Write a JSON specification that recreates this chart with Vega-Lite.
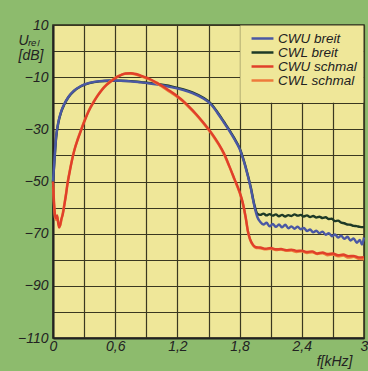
{
"$schema":"https://vega.github.io/schema/vega-lite/v6.json",
"width":311,"height":313,"autosize":"none",
"padding":{"left":53,"top":25,"right":4,"bottom":33},
"background":"#8dbb6d",
"config":{"view":{"fill":"#efe799","stroke":"#2b2a1c","strokeWidth":1.5},"font":"Liberation Sans",
 "axis":{"grid":true,"gridColor":"#3a3820","gridWidth":1.2,"gridOpacity":1,"ticks":false,"domainColor":"#222","domainWidth":2,"labelFont":"Liberation Sans","labelFontStyle":"italic","labelFontSize":14,"labelColor":"#222","labelFlush":false,"labelOverlap":false,"titleFont":"Liberation Sans","titleFontStyle":"italic","titleFontWeight":"normal","titleFontSize":14,"titleColor":"#222"},
 "axisX":{"labelExpr":"round(datum.value*10) % 6 == 0 ? replace(format(datum.value,'.1~f'),'.',',') : ''","labelPadding":1,"titleX":299,"titleY":27,"titleAlign":"right","titleBaseline":"alphabetic"},
 "axisY":{"labelExpr":"datum.value % 20 == 0 ? '' : datum.label","labelPadding":5,"titleAngle":0,"titleX":-35,"titleY":19,"titleAlign":"left","titleBaseline":"alphabetic","titleLineHeight":15}
},
"datasets":{
"curves":[
{"s":"CWL breit","f":0,"v":-50.5},{"s":"CWL breit","f":0.01,"v":-44.5},{"s":"CWL breit","f":0.02,"v":-38.5},{"s":"CWL breit","f":0.03,"v":-33.3},{"s":"CWL breit","f":0.05,"v":-27.8},{"s":"CWL breit","f":0.08,"v":-23.2},{"s":"CWL breit","f":0.11,"v":-20.4},{"s":"CWL breit","f":0.15,"v":-17.6},{"s":"CWL breit","f":0.2,"v":-15.4},{"s":"CWL breit","f":0.27,"v":-13.5},{"s":"CWL breit","f":0.35,"v":-12.3},{"s":"CWL breit","f":0.45,"v":-11.6},{"s":"CWL breit","f":0.55,"v":-11.4},{"s":"CWL breit","f":0.65,"v":-11.4},{"s":"CWL breit","f":0.75,"v":-11.5},{"s":"CWL breit","f":0.85,"v":-11.9},{"s":"CWL breit","f":0.95,"v":-12.3},{"s":"CWL breit","f":1.05,"v":-12.9},{"s":"CWL breit","f":1.15,"v":-13.6},{"s":"CWL breit","f":1.25,"v":-14.6},{"s":"CWL breit","f":1.35,"v":-15.9},{"s":"CWL breit","f":1.45,"v":-17.9},{"s":"CWL breit","f":1.52,"v":-20},{"s":"CWL breit","f":1.6,"v":-24.2},{"s":"CWL breit","f":1.65,"v":-27.2},{"s":"CWL breit","f":1.7,"v":-30.2},{"s":"CWL breit","f":1.75,"v":-33.5},{"s":"CWL breit","f":1.8,"v":-37.2},{"s":"CWL breit","f":1.85,"v":-43.2},{"s":"CWL breit","f":1.88,"v":-47.7},{"s":"CWL breit","f":1.91,"v":-52.6},{"s":"CWL breit","f":1.94,"v":-58.5},{"s":"CWL breit","f":1.97,"v":-62.3},{"s":"CWL breit","f":2.0,"v":-62.8},{"s":"CWL breit","f":2.03,"v":-62.3},{"s":"CWL breit","f":2.06,"v":-63.0},{"s":"CWL breit","f":2.09,"v":-62.5},{"s":"CWL breit","f":2.12,"v":-63.1},{"s":"CWL breit","f":2.15,"v":-62.6},{"s":"CWL breit","f":2.18,"v":-63.3},{"s":"CWL breit","f":2.21,"v":-62.8},{"s":"CWL breit","f":2.24,"v":-63.4},{"s":"CWL breit","f":2.27,"v":-62.9},{"s":"CWL breit","f":2.3,"v":-63.2},{"s":"CWL breit","f":2.33,"v":-62.6},{"s":"CWL breit","f":2.36,"v":-63.1},{"s":"CWL breit","f":2.39,"v":-62.8},{"s":"CWL breit","f":2.42,"v":-63.4},{"s":"CWL breit","f":2.45,"v":-63.0},{"s":"CWL breit","f":2.48,"v":-63.6},{"s":"CWL breit","f":2.51,"v":-63.2},{"s":"CWL breit","f":2.54,"v":-63.8},{"s":"CWL breit","f":2.57,"v":-63.5},{"s":"CWL breit","f":2.6,"v":-64.0},{"s":"CWL breit","f":2.63,"v":-63.7},{"s":"CWL breit","f":2.66,"v":-64.4},{"s":"CWL breit","f":2.69,"v":-64.3},{"s":"CWL breit","f":2.72,"v":-65.2},{"s":"CWL breit","f":2.75,"v":-65.0},{"s":"CWL breit","f":2.78,"v":-65.8},{"s":"CWL breit","f":2.81,"v":-66.0},{"s":"CWL breit","f":2.84,"v":-66.5},{"s":"CWL breit","f":2.87,"v":-66.6},{"s":"CWL breit","f":2.9,"v":-67.0},{"s":"CWL breit","f":2.93,"v":-67.1},{"s":"CWL breit","f":2.96,"v":-67.4},{"s":"CWL breit","f":3.0,"v":-67.5},
{"s":"CWU breit","f":0,"v":-50},{"s":"CWU breit","f":0.01,"v":-44},{"s":"CWU breit","f":0.02,"v":-38},{"s":"CWU breit","f":0.03,"v":-33},{"s":"CWU breit","f":0.05,"v":-27.5},{"s":"CWU breit","f":0.08,"v":-23},{"s":"CWU breit","f":0.11,"v":-20.2},{"s":"CWU breit","f":0.15,"v":-17.5},{"s":"CWU breit","f":0.2,"v":-15.3},{"s":"CWU breit","f":0.27,"v":-13.4},{"s":"CWU breit","f":0.35,"v":-12.2},{"s":"CWU breit","f":0.45,"v":-11.5},{"s":"CWU breit","f":0.55,"v":-11.3},{"s":"CWU breit","f":0.65,"v":-11.4},{"s":"CWU breit","f":0.75,"v":-11.6},{"s":"CWU breit","f":0.85,"v":-12.0},{"s":"CWU breit","f":0.95,"v":-12.5},{"s":"CWU breit","f":1.05,"v":-13.1},{"s":"CWU breit","f":1.15,"v":-13.9},{"s":"CWU breit","f":1.25,"v":-14.9},{"s":"CWU breit","f":1.35,"v":-16.2},{"s":"CWU breit","f":1.45,"v":-18.2},{"s":"CWU breit","f":1.52,"v":-20.3},{"s":"CWU breit","f":1.6,"v":-24.5},{"s":"CWU breit","f":1.65,"v":-27.5},{"s":"CWU breit","f":1.7,"v":-30.5},{"s":"CWU breit","f":1.75,"v":-33.8},{"s":"CWU breit","f":1.8,"v":-37.5},{"s":"CWU breit","f":1.85,"v":-43.5},{"s":"CWU breit","f":1.88,"v":-48},{"s":"CWU breit","f":1.91,"v":-53},{"s":"CWU breit","f":1.94,"v":-59},{"s":"CWU breit","f":1.97,"v":-63.5},{"s":"CWU breit","f":2.0,"v":-65.5},{"s":"CWU breit","f":2.03,"v":-66.5},{"s":"CWU breit","f":2.06,"v":-65.8},{"s":"CWU breit","f":2.09,"v":-67.2},{"s":"CWU breit","f":2.12,"v":-66.3},{"s":"CWU breit","f":2.15,"v":-67.4},{"s":"CWU breit","f":2.18,"v":-66.5},{"s":"CWU breit","f":2.21,"v":-67.6},{"s":"CWU breit","f":2.24,"v":-66.6},{"s":"CWU breit","f":2.27,"v":-67.9},{"s":"CWU breit","f":2.3,"v":-67.2},{"s":"CWU breit","f":2.33,"v":-68.1},{"s":"CWU breit","f":2.36,"v":-67.3},{"s":"CWU breit","f":2.39,"v":-68.3},{"s":"CWU breit","f":2.42,"v":-67.8},{"s":"CWU breit","f":2.45,"v":-69.0},{"s":"CWU breit","f":2.48,"v":-68.4},{"s":"CWU breit","f":2.51,"v":-69.5},{"s":"CWU breit","f":2.54,"v":-68.9},{"s":"CWU breit","f":2.57,"v":-69.8},{"s":"CWU breit","f":2.6,"v":-69.2},{"s":"CWU breit","f":2.63,"v":-70.4},{"s":"CWU breit","f":2.66,"v":-69.8},{"s":"CWU breit","f":2.69,"v":-71.0},{"s":"CWU breit","f":2.72,"v":-70.3},{"s":"CWU breit","f":2.75,"v":-71.5},{"s":"CWU breit","f":2.78,"v":-70.8},{"s":"CWU breit","f":2.81,"v":-72.0},{"s":"CWU breit","f":2.84,"v":-71.2},{"s":"CWU breit","f":2.87,"v":-72.6},{"s":"CWU breit","f":2.9,"v":-71.8},{"s":"CWU breit","f":2.93,"v":-73.5},{"s":"CWU breit","f":2.96,"v":-72.4},{"s":"CWU breit","f":2.98,"v":-74.2},{"s":"CWU breit","f":3.0,"v":-71.5},
{"s":"CWL schmal","f":0,"v":-52},{"s":"CWL schmal","f":0.01,"v":-59},{"s":"CWL schmal","f":0.02,"v":-64},{"s":"CWL schmal","f":0.03,"v":-64.8},{"s":"CWL schmal","f":0.04,"v":-63.5},{"s":"CWL schmal","f":0.05,"v":-65.5},{"s":"CWL schmal","f":0.06,"v":-67},{"s":"CWL schmal","f":0.07,"v":-66.8},{"s":"CWL schmal","f":0.08,"v":-65},{"s":"CWL schmal","f":0.095,"v":-62},{"s":"CWL schmal","f":0.11,"v":-58.5},{"s":"CWL schmal","f":0.126,"v":-54.5},{"s":"CWL schmal","f":0.14,"v":-50.5},{"s":"CWL schmal","f":0.158,"v":-46.5},{"s":"CWL schmal","f":0.18,"v":-42.2},{"s":"CWL schmal","f":0.205,"v":-38},{"s":"CWL schmal","f":0.24,"v":-33.5},{"s":"CWL schmal","f":0.27,"v":-30.2},{"s":"CWL schmal","f":0.3,"v":-27},{"s":"CWL schmal","f":0.33,"v":-24.1},{"s":"CWL schmal","f":0.36,"v":-21.6},{"s":"CWL schmal","f":0.395,"v":-19.2},{"s":"CWL schmal","f":0.43,"v":-17},{"s":"CWL schmal","f":0.47,"v":-14.8},{"s":"CWL schmal","f":0.52,"v":-12.7},{"s":"CWL schmal","f":0.57,"v":-11.1},{"s":"CWL schmal","f":0.62,"v":-9.8},{"s":"CWL schmal","f":0.66,"v":-9.1},{"s":"CWL schmal","f":0.7,"v":-8.7},{"s":"CWL schmal","f":0.75,"v":-8.6},{"s":"CWL schmal","f":0.8,"v":-9},{"s":"CWL schmal","f":0.86,"v":-9.8},{"s":"CWL schmal","f":0.93,"v":-10.9},{"s":"CWL schmal","f":1.0,"v":-12.4},{"s":"CWL schmal","f":1.05,"v":-13.6},{"s":"CWL schmal","f":1.12,"v":-15.5},{"s":"CWL schmal","f":1.2,"v":-17.6},{"s":"CWL schmal","f":1.25,"v":-19.2},{"s":"CWL schmal","f":1.31,"v":-21.5},{"s":"CWL schmal","f":1.38,"v":-24.4},{"s":"CWL schmal","f":1.44,"v":-27.2},{"s":"CWL schmal","f":1.5,"v":-30.2},{"s":"CWL schmal","f":1.56,"v":-33.5},{"s":"CWL schmal","f":1.6,"v":-36},{"s":"CWL schmal","f":1.65,"v":-39.6},{"s":"CWL schmal","f":1.7,"v":-44.2},{"s":"CWL schmal","f":1.75,"v":-49.2},{"s":"CWL schmal","f":1.8,"v":-54.3},{"s":"CWL schmal","f":1.83,"v":-58.3},{"s":"CWL schmal","f":1.86,"v":-64.3},{"s":"CWL schmal","f":1.88,"v":-69.2},{"s":"CWL schmal","f":1.9,"v":-72.2},{"s":"CWL schmal","f":1.93,"v":-74.6},{"s":"CWL schmal","f":1.96,"v":-75.5},{"s":"CWL schmal","f":2.0,"v":-75.6},{"s":"CWL schmal","f":2.05,"v":-76.0},{"s":"CWL schmal","f":2.1,"v":-75.8},{"s":"CWL schmal","f":2.15,"v":-76.3},{"s":"CWL schmal","f":2.2,"v":-76.1},{"s":"CWL schmal","f":2.25,"v":-76.6},{"s":"CWL schmal","f":2.3,"v":-76.5},{"s":"CWL schmal","f":2.35,"v":-77.0},{"s":"CWL schmal","f":2.4,"v":-76.8},{"s":"CWL schmal","f":2.45,"v":-77.4},{"s":"CWL schmal","f":2.5,"v":-77.1},{"s":"CWL schmal","f":2.55,"v":-77.8},{"s":"CWL schmal","f":2.6,"v":-77.5},{"s":"CWL schmal","f":2.65,"v":-78.3},{"s":"CWL schmal","f":2.7,"v":-78.0},{"s":"CWL schmal","f":2.75,"v":-78.7},{"s":"CWL schmal","f":2.8,"v":-78.4},{"s":"CWL schmal","f":2.85,"v":-79.2},{"s":"CWL schmal","f":2.9,"v":-78.9},{"s":"CWL schmal","f":2.95,"v":-79.6},{"s":"CWL schmal","f":3.0,"v":-79.8},
{"s":"CWU schmal","f":0,"v":-50},{"s":"CWU schmal","f":0.01,"v":-58},{"s":"CWU schmal","f":0.02,"v":-63},{"s":"CWU schmal","f":0.03,"v":-64},{"s":"CWU schmal","f":0.04,"v":-63},{"s":"CWU schmal","f":0.05,"v":-66},{"s":"CWU schmal","f":0.06,"v":-67.7},{"s":"CWU schmal","f":0.07,"v":-66.5},{"s":"CWU schmal","f":0.08,"v":-64.5},{"s":"CWU schmal","f":0.095,"v":-62.5},{"s":"CWU schmal","f":0.11,"v":-59},{"s":"CWU schmal","f":0.126,"v":-55},{"s":"CWU schmal","f":0.14,"v":-51},{"s":"CWU schmal","f":0.158,"v":-47},{"s":"CWU schmal","f":0.18,"v":-42.5},{"s":"CWU schmal","f":0.205,"v":-38.2},{"s":"CWU schmal","f":0.24,"v":-33.8},{"s":"CWU schmal","f":0.27,"v":-30.5},{"s":"CWU schmal","f":0.3,"v":-27.3},{"s":"CWU schmal","f":0.33,"v":-24.3},{"s":"CWU schmal","f":0.36,"v":-21.8},{"s":"CWU schmal","f":0.395,"v":-19.4},{"s":"CWU schmal","f":0.43,"v":-17.2},{"s":"CWU schmal","f":0.47,"v":-15},{"s":"CWU schmal","f":0.52,"v":-12.9},{"s":"CWU schmal","f":0.57,"v":-11.3},{"s":"CWU schmal","f":0.62,"v":-9.9},{"s":"CWU schmal","f":0.66,"v":-9.1},{"s":"CWU schmal","f":0.7,"v":-8.6},{"s":"CWU schmal","f":0.75,"v":-8.5},{"s":"CWU schmal","f":0.8,"v":-8.8},{"s":"CWU schmal","f":0.86,"v":-9.6},{"s":"CWU schmal","f":0.93,"v":-10.6},{"s":"CWU schmal","f":1.0,"v":-12.1},{"s":"CWU schmal","f":1.05,"v":-13.3},{"s":"CWU schmal","f":1.12,"v":-15.1},{"s":"CWU schmal","f":1.2,"v":-17.3},{"s":"CWU schmal","f":1.25,"v":-18.9},{"s":"CWU schmal","f":1.31,"v":-21.2},{"s":"CWU schmal","f":1.38,"v":-24.1},{"s":"CWU schmal","f":1.44,"v":-26.9},{"s":"CWU schmal","f":1.5,"v":-29.9},{"s":"CWU schmal","f":1.56,"v":-33.2},{"s":"CWU schmal","f":1.6,"v":-35.7},{"s":"CWU schmal","f":1.65,"v":-39.3},{"s":"CWU schmal","f":1.7,"v":-44},{"s":"CWU schmal","f":1.75,"v":-49},{"s":"CWU schmal","f":1.8,"v":-54},{"s":"CWU schmal","f":1.83,"v":-58},{"s":"CWU schmal","f":1.86,"v":-64},{"s":"CWU schmal","f":1.88,"v":-69},{"s":"CWU schmal","f":1.9,"v":-72},{"s":"CWU schmal","f":1.93,"v":-74.3},{"s":"CWU schmal","f":1.96,"v":-75.2},{"s":"CWU schmal","f":2.0,"v":-75.3},{"s":"CWU schmal","f":2.05,"v":-75.8},{"s":"CWU schmal","f":2.1,"v":-75.5},{"s":"CWU schmal","f":2.15,"v":-76.0},{"s":"CWU schmal","f":2.2,"v":-75.9},{"s":"CWU schmal","f":2.25,"v":-76.3},{"s":"CWU schmal","f":2.3,"v":-76.1},{"s":"CWU schmal","f":2.35,"v":-76.6},{"s":"CWU schmal","f":2.4,"v":-76.5},{"s":"CWU schmal","f":2.45,"v":-77.0},{"s":"CWU schmal","f":2.5,"v":-76.8},{"s":"CWU schmal","f":2.55,"v":-77.6},{"s":"CWU schmal","f":2.6,"v":-77.2},{"s":"CWU schmal","f":2.65,"v":-77.8},{"s":"CWU schmal","f":2.7,"v":-77.6},{"s":"CWU schmal","f":2.75,"v":-78.3},{"s":"CWU schmal","f":2.8,"v":-78.0},{"s":"CWU schmal","f":2.85,"v":-78.6},{"s":"CWU schmal","f":2.9,"v":-78.5},{"s":"CWU schmal","f":2.95,"v":-79.1},{"s":"CWU schmal","f":3.0,"v":-79.0}
]},
"layer":[
{"data":{"values":[{}]},
 "mark":{"type":"rect","fill":"#efe799"},
 "encoding":{
  "x":{"datum":1.806,"type":"quantitative","scale":{"domain":[0,3],"nice":false},"title":"f[kHz]","axis":{"values":[0,0.3,0.6,0.9,1.2,1.5,1.8,2.1,2.4,2.7,3]}},
  "x2":{"datum":2.994},
  "y":{"datum":9.8,"type":"quantitative","scale":{"domain":[-110,10],"nice":false},"title":["Uᵣₑₗ","[dB]"],"axis":{"values":[10,0,-10,-20,-30,-40,-50,-60,-70,-80,-90,-100,-110]}},
  "y2":{"datum":-19.8}}},
{"data":{"name":"curves"},
 "mark":{"type":"line","strokeWidth":2.4,"interpolate":"monotone"},
 "encoding":{
  "x":{"field":"f","type":"quantitative","scale":{"domain":[0,3],"nice":false},"title":"f[kHz]","axis":{"values":[0,0.3,0.6,0.9,1.2,1.5,1.8,2.1,2.4,2.7,3]}},
  "y":{"field":"v","type":"quantitative","scale":{"domain":[-110,10],"nice":false},"title":["Uᵣₑₗ","[dB]"],"axis":{"values":[10,0,-10,-20,-30,-40,-50,-60,-70,-80,-90,-100,-110]}},
  "color":{"field":"s","type":"nominal",
   "scale":{"domain":["CWU breit","CWL breit","CWU schmal","CWL schmal"],"range":["#4a58a4","#1e3a26","#e0402a","#ee7a3c"]},
   "legend":{"title":null,"orient":"none","legendX":197,"legendY":7,"padding":0,"symbolType":"stroke","symbolSize":480,"symbolStrokeWidth":2.5,"clipHeight":13,"rowPadding":0,
    "labelFont":"Liberation Sans","labelFontStyle":"italic","labelFontSize":13.5,"labelColor":"#222","labelOffset":3,"labelLimit":200}}
 }}
]
}
